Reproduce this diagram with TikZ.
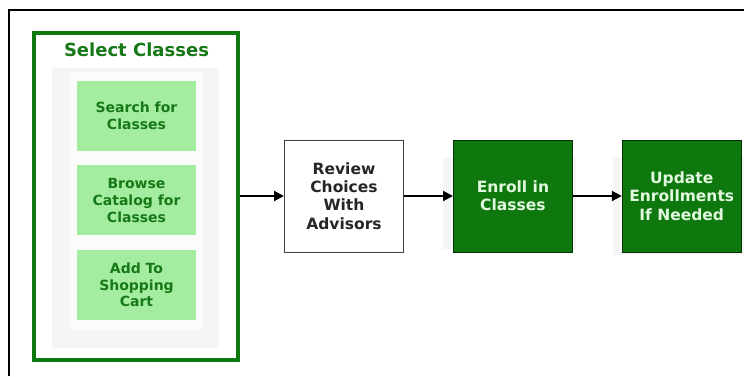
\documentclass[tikz,border=0pt]{standalone}
\usepackage{fontspec}
\setmainfont{DejaVu Sans}
\usetikzlibrary{arrows.meta, positioning, backgrounds}

\definecolor{darkgrn}{RGB}{14,120,14}
\definecolor{lightgrn}{RGB}{164,237,160}
\definecolor{textgrn}{RGB}{22,120,22}
\definecolor{palegrn}{RGB}{225,248,222}
\definecolor{panel}{RGB}{245,245,245}

\begin{document}
\begin{tikzpicture}[
    x=1pt, y=-1pt,
    >={Triangle[length=10pt, width=10pt]},
    flow/.style={->, line width=2pt, black},            % connectors
    substep/.style={fill=lightgrn, text=textgrn, font=\fontsize{14}{16.7}\selectfont\bfseries,
        align=center, minimum width=119pt, minimum height=70pt, inner sep=0pt},
    stepbox/.style={minimum width=119pt, minimum height=112pt, inner sep=0pt,
        align=center, font=\fontsize{15.5}{18.3}\selectfont\bfseries},
    plainstep/.style={stepbox, draw=black!75, line width=1pt, fill=white, text=black!85},
    greenstep/.style={stepbox, draw=black!60!darkgrn, line width=0.8pt, fill=darkgrn, text=palegrn}
]
    % fixed page size
    \useasboundingbox (0,0) rectangle (744,376);

    % outer frame (left and top edges only)
    \draw[line width=2pt] (9,376) -- (9,10) -- (744,10);

    % group box with its sub-steps
    \node[draw=darkgrn, line width=4pt, minimum width=204pt, minimum height=327pt,
          inner sep=0pt] (select) at (136,196) {};
    \fill[panel] (52,68) rectangle (219,348);
    \fill[white!60!panel] (70,72) rectangle (203,330);
    \node[text=textgrn, font=\fontsize{18}{20}\selectfont\bfseries] (title) at (136.5,50) {Select Classes};

    \node[substep] (search) at (136.5,116) {Search for\\Classes};
    \node[substep, below=14pt of search] (browse) {Browse\\Catalog for\\Classes};
    \node[substep, below=14pt of browse] (cart) {Add To\\Shopping\\Cart};

    % main steps
    \node[plainstep] (review) at (344,196) {Review\\Choices\\With\\Advisors};
    \node[greenstep, right=49pt of review] (enroll) {Enroll in\\Classes};
    \node[greenstep, right=49pt of enroll] (update) {Update\\Enrollments\\If Needed};

    % faint panels behind the green steps
    \begin{pgfonlayer}{background}
        \fill[panel] ([shift={(-10pt,-17pt)}]enroll.north west) rectangle ([shift={(3pt,3pt)}]enroll.south east);
        \fill[panel] ([shift={(-9pt,-17pt)}]update.north west) rectangle (744,255);
    \end{pgfonlayer}

    % connectors
    \draw[flow] (select.east) -- (review.west);
    \draw[flow] (review) -- (enroll);
    \draw[flow] (enroll) -- (update);
\end{tikzpicture}
\end{document}
